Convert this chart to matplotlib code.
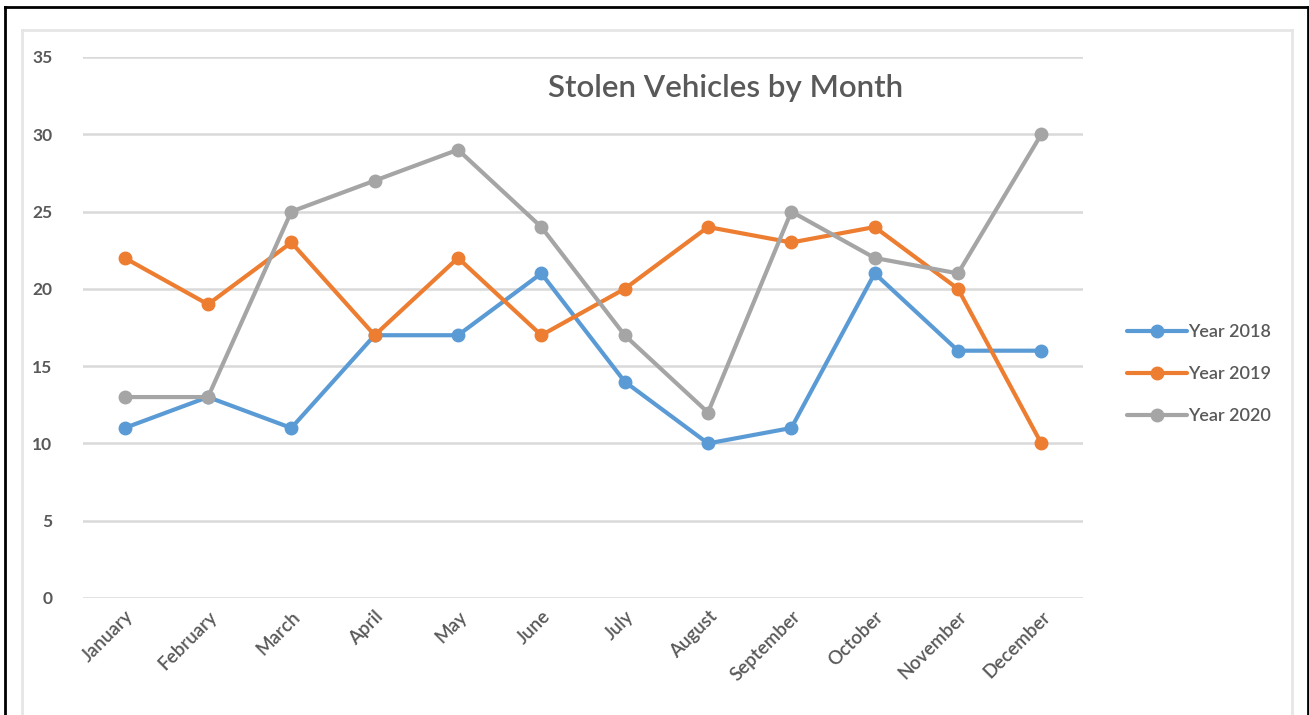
import matplotlib
matplotlib.use("Agg")
import matplotlib.pyplot as plt
from matplotlib.lines import Line2D

plt.rcParams['font.family'] = ['Lato', 'DejaVu Sans']

months = ['January', 'February', 'March', 'April', 'May', 'June', 'July',
          'August', 'September', 'October', 'November', 'December']
year_2018 = [11, 13, 11, 17, 17, 21, 14, 10, 11, 21, 16, 16]
year_2019 = [22, 19, 23, 17, 22, 17, 20, 24, 23, 24, 20, 10]
year_2020 = [13, 13, 25, 27, 29, 24, 17, 12, 25, 22, 21, 30]

series = [('Year 2018', year_2018, '#5B9BD5'),
          ('Year 2019', year_2019, '#ED7D31'),
          ('Year 2020', year_2020, '#A5A5A5')]

W, H = 1309, 715
fig = plt.figure(figsize=(W / 100, H / 100), dpi=100)
ax = fig.add_axes([83 / W, 1 - 598 / H, 1000 / W, 541 / H])

x = list(range(len(months)))
for name, vals, col in series:
    ax.plot(x, vals, color=col, lw=3, marker='o', ms=9, label=name,
            solid_capstyle='round', zorder=3)

ax.set_xlim(-0.5, len(months) - 0.5)
ax.set_ylim(0, 35)
ax.set_yticks(range(0, 36, 5))
ax.set_xticks(x)
ax.set_xticklabels(months, rotation=45, ha='right', rotation_mode='anchor',
                   fontweight='semibold', fontsize=13.5)
ax.set_yticklabels([str(v) for v in range(0, 36, 5)], fontweight='bold',
                   fontsize=12.5)
ax.grid(axis='y', color='#D9D9D9', lw=1.8)
ax.set_axisbelow(True)
for s in ax.spines.values():
    s.set_visible(False)
ax.tick_params(length=0, colors='#595959', pad=22)
ax.tick_params(axis='x', pad=7)

ax.text(0.643, 0.942, 'Stolen Vehicles by Month', transform=ax.transAxes,
        ha='center', va='center', fontsize=22.5, color='#595959',
        fontweight='semibold')

leg = ax.legend(loc='center left', bbox_to_anchor=(1.028, 0.414),
                frameon=False, labelspacing=1.45,
                handlelength=3.3, handletextpad=0.05,
                prop={'size': 13, 'weight': 'semibold'}, labelcolor='#595959')

# chart frame (light gray) and outer black border
gray = '#E6E6E6'
fig.add_artist(Line2D([22 / W, 22 / W], [0, 1 - 30 / H], color=gray, lw=2, transform=fig.transFigure))
fig.add_artist(Line2D([22 / W, 1292 / W], [1 - 30 / H, 1 - 30 / H], color=gray, lw=2, transform=fig.transFigure))
fig.add_artist(Line2D([1292 / W, 1292 / W], [0, 1 - 30 / H], color=gray, lw=2, transform=fig.transFigure))
fig.add_artist(Line2D([5 / W, 5 / W], [0, 1 - 6.5 / H], color='black', lw=2, transform=fig.transFigure))
fig.add_artist(Line2D([5 / W, 1307.5 / W], [1 - 6.5 / H, 1 - 6.5 / H], color='black', lw=2, transform=fig.transFigure))
fig.add_artist(Line2D([1307.5 / W, 1307.5 / W], [0, 1 - 6.5 / H], color='black', lw=2, transform=fig.transFigure))

fig.savefig('out.png', dpi=100)
